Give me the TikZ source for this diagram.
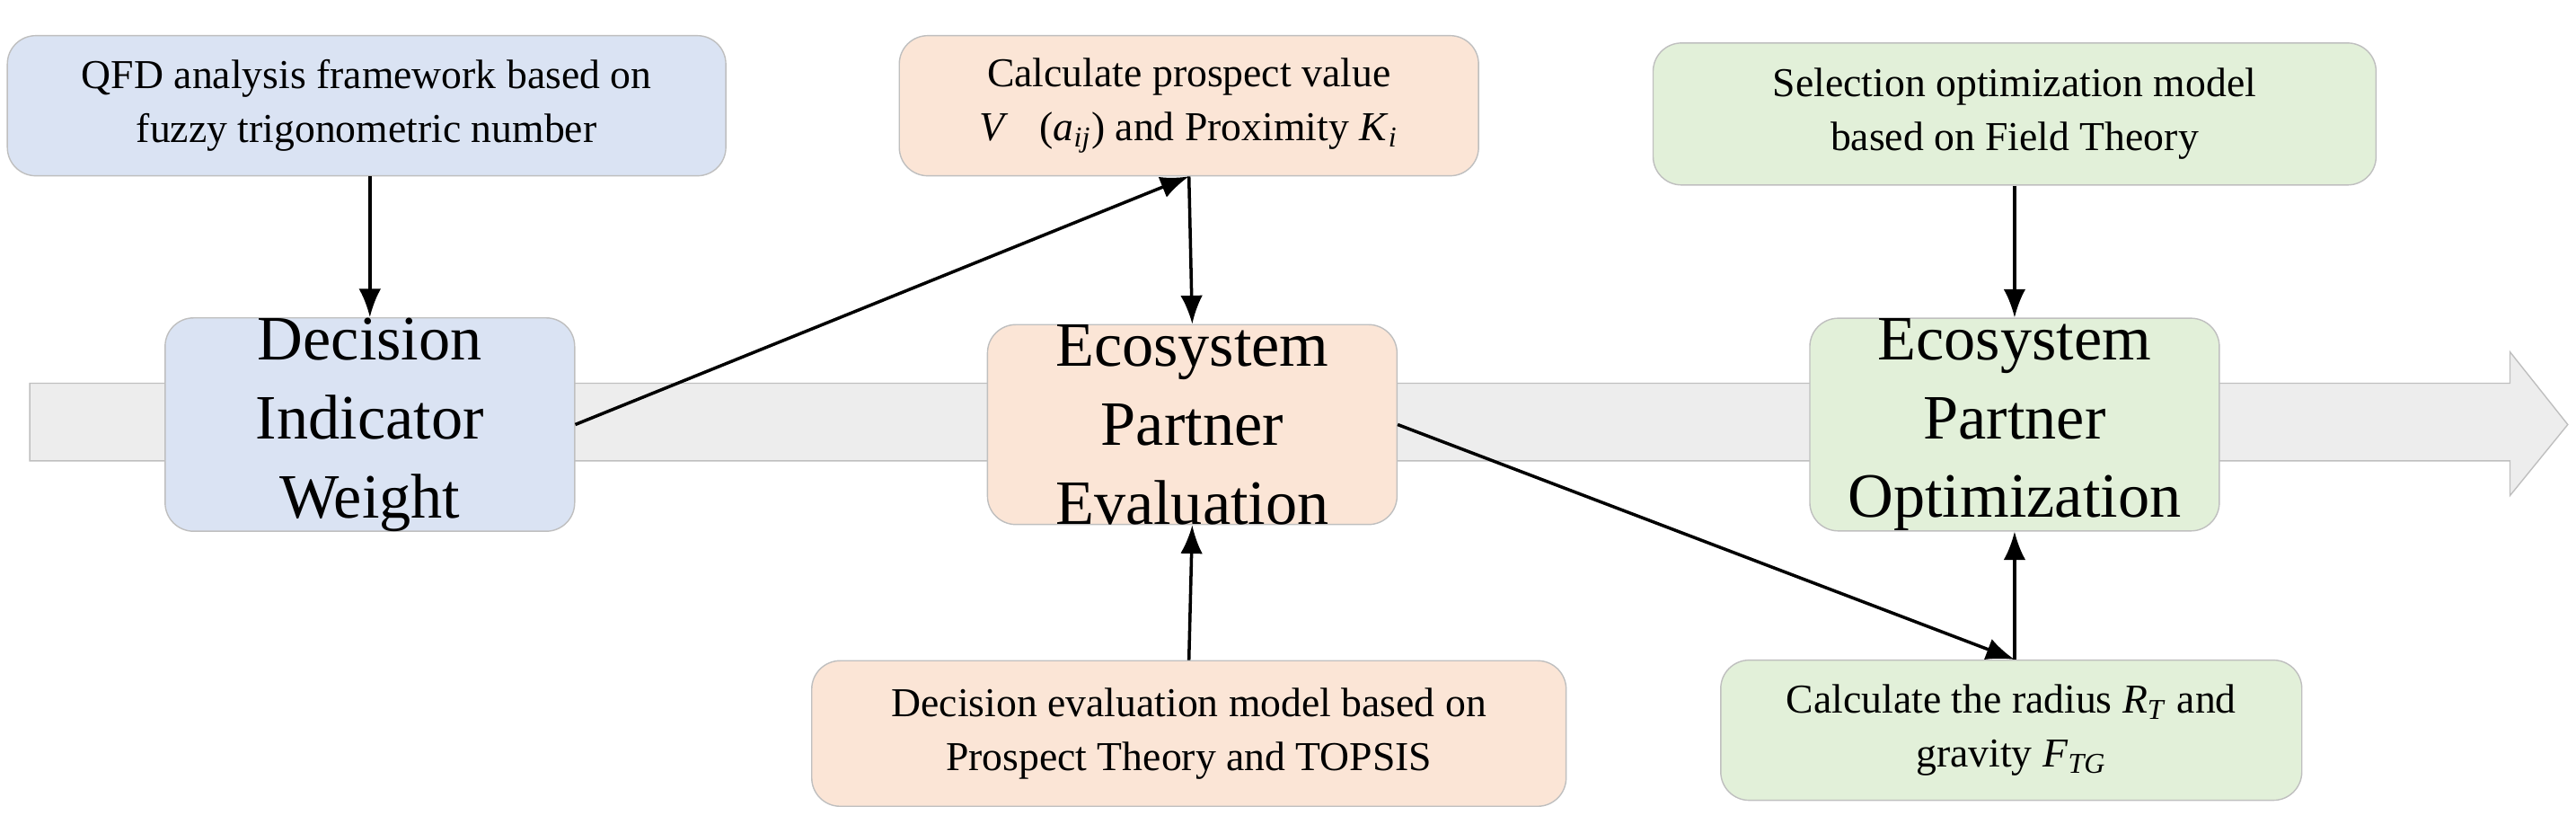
\documentclass[tikz,border=0pt]{standalone}
\usepackage{fontspec}
\setmainfont{Liberation Serif}
\usetikzlibrary{positioning,arrows.meta}
\definecolor{blueF}{HTML}{DAE3F3}
\definecolor{orangeF}{HTML}{FBE5D6}
\definecolor{greenF}{HTML}{E2F0D9}
\definecolor{edgeC}{HTML}{BFBFBF}
\definecolor{bandF}{HTML}{EDEDED}
\tikzset{
  box/.style={draw=edgeC, rounded corners=9pt, align=center, inner sep=0pt, font=\fontsize{13}{17}\selectfont},
  stage/.style={box, minimum width=4.56cm, minimum height=2.15cm, font=\fontsize{20}{25}\selectfont},
  link/.style={-{Latex[length=9pt,width=7pt]}, line width=1pt}
}
\begin{document}
\begin{tikzpicture}[x=0.018385cm, y=-0.018385cm]
\useasboundingbox (0,0) rectangle (1560,504);
% big background arrow
\draw [edgeC, fill=bandF] (18,232) -- (1520,232) -- (1520,213) -- (1555,257) -- (1520,300) -- (1520,279) -- (18,279) -- cycle;
% stages
\node [stage, fill=blueF] (weight) at (224,257) {Decision\\Indicator\\Weight};
\node [stage, fill=orangeF] (eval) at (722,257) {Ecosystem\\Partner\\Evaluation};
\node [stage, fill=greenF] (optim) at (1220,257) {Ecosystem\\Partner\\Optimization};
% methods
\node [box, fill=blueF, minimum width=8.0cm, minimum height=1.56cm] (qfd) at (222,64) {QFD analysis framework based on\\fuzzy trigonometric number};
\node [box, fill=orangeF, minimum width=6.45cm, minimum height=1.56cm] (prosp) at (720,64) {Calculate prospect value\\\textit{V}\ \ \ (\textit{a}\textsubscript{\textit{ij}}) and Proximity \textit{K}\textsubscript{\textit{i}}};
\node [box, fill=orangeF, minimum width=8.4cm, minimum height=1.62cm] (topsis) at (720,444) {Decision evaluation model based on\\Prospect Theory and TOPSIS};
\node [box, fill=greenF, minimum width=8.05cm, minimum height=1.58cm] (field) at (1220,69) {Selection optimization model\\based on Field Theory};
\node [box, fill=greenF, minimum width=6.47cm, minimum height=1.56cm] (radius) at (1218,442) {Calculate the radius \textit{R}\textsubscript{\textit{T}} and\\gravity \textit{F}\textsubscript{\textit{TG}}};
% connectors
\coordinate (rtop) at (radius.north -| optim.south);
\draw [link] (qfd.south -| weight.north) -- (weight.north);
\draw [link] (weight.east) -- (prosp.south);
\draw [link] (prosp.south) -- (eval.north);
\draw [link] (topsis.north) -- (eval.south);
\draw [link] (eval.east) -- (rtop);
\draw [link] (field.south -| optim.north) -- (optim.north);
\draw [link] (rtop) -- (optim.south);
\end{tikzpicture}
\end{document}
